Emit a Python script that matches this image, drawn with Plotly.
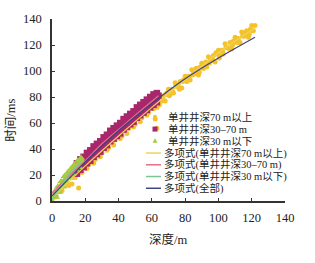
import plotly.graph_objects as go

# ---------------- data ----------------
yellow_depth = [60, 61, 62, 63, 64, 65, 66, 67, 68, 69, 70, 71, 72, 73, 74, 75, 76, 77, 78, 79,
                80, 81, 82, 83, 84, 85, 86, 87, 88, 89, 90, 91, 92, 93, 94, 95, 96, 97, 98, 99,
                100, 101, 102, 103, 104, 105, 106, 107, 108, 109, 110, 111, 112, 113, 114, 115, 116, 117, 118, 119,
                120, 121, 122,
                60.5, 62.5, 64.5, 66.5, 68.5, 70.5, 72.5, 74.5, 76.5, 78.5, 80.5, 82.5, 84.5, 86.5, 88.5, 90.5,
                92.5, 94.5, 96.5, 98.5, 100.5, 102.5, 104.5, 106.5, 108.5, 110.5, 112.5, 114.5, 116.5, 118.5, 120.5,
                0, 2, 4, 6, 8, 10, 12, 14, 16, 18, 20, 22, 24, 26, 28, 30, 32, 34, 36, 38, 40, 42, 44, 46, 48,
                50, 52, 54, 56, 58,
                21, 25, 29, 33, 37, 41, 45, 49, 53, 57,
                62, 63, 12, 16]
yellow_time = [75, 71, 75, 72, 80, 77, 77, 81, 77, 83, 86, 82, 86, 83, 91, 88, 88, 92, 87, 93,
               96, 92, 96, 93, 101, 98, 98, 102, 97, 103, 106, 102, 106, 103, 111, 108, 108, 112, 107, 113,
               116, 112, 116, 113, 121, 118, 118, 122, 117, 123, 126, 122, 125, 122, 130, 127, 127, 131, 126, 132,
               135, 131, 135,
               72, 77, 74, 79, 82, 81, 84, 89, 86, 92, 95, 94, 97, 102, 99, 104,
               107, 106, 109, 114, 110, 115, 118, 117, 120, 125, 122, 127, 130, 128, 131,
               2, 3, 8, 8, 12, 12, 18, 18, 22, 22, 27, 28, 31, 32, 37, 37, 41, 41, 46, 47, 50, 50, 55, 56, 59,
               59, 64, 64, 68, 68,
               25, 29, 34, 39, 43, 48, 52, 57, 61, 66,
               63, 56, 13, 10]

purple_depth = [14, 16, 18, 20, 22, 24, 26, 28, 30, 32, 34, 36, 38, 40, 42, 44, 46, 48, 50, 52, 54, 56, 58, 60, 62, 64,
                15, 17, 19, 21, 23, 25, 27, 29, 31, 33, 35, 37, 39, 41, 43, 45, 47, 49, 51, 53, 55, 57, 59, 61, 63,
                15, 17, 19, 21, 23, 25, 27, 29, 31, 33, 35, 37, 39, 41, 43, 45, 47, 49, 51, 53, 55, 57, 59, 61, 63]
purple_time = [24, 27, 29, 31, 34, 36, 39, 41, 44, 46, 48, 51, 53, 55, 58, 60, 62, 64, 66, 69, 71, 73, 75, 77, 79, 81,
               29, 32, 34, 37, 39, 42, 44, 46, 49, 51, 54, 56, 58, 60, 63, 65, 67, 69, 72, 74, 76, 78, 80, 82, 83,
               21, 24, 26, 29, 31, 34, 36, 38, 41, 43, 46, 48, 50, 52, 55, 57, 59, 61, 64, 66, 68, 70, 72, 74, 76]

green_depth = [0, 1, 2, 3, 4, 5, 6, 7, 8, 9, 10, 11, 12, 13, 14, 15, 16, 17, 18,
               1.5, 3.5, 5.5, 7.5, 9.5, 11.5, 13.5, 15.5, 17.5,
               2.5, 4.5, 6.5, 8.5, 10.5, 12.5, 14.5, 16.5]
green_time = [0, 3, 5, 7, 9, 11, 13, 15, 17, 18, 20, 22, 23, 25, 26, 27, 29, 30, 31,
              7, 11, 15, 19, 22, 25, 28, 31, 33,
              3, 7, 11, 15, 18, 21, 24, 26]

fit_yellow_depth = [0, 20, 40, 60, 80, 100, 122]
fit_yellow_time = [2, 27, 50, 72, 93, 114, 133]
fit_pink_depth = [0, 10, 20, 30, 40, 50, 64]
fit_pink_time = [6, 19, 31, 44, 55, 66, 81]
fit_green_depth = [0, 5, 10, 15, 18]
fit_green_time = [1, 11, 20, 27, 31]
fit_all_depth = [0, 10, 20, 40, 60, 80, 100, 122]
fit_all_time = [4, 17, 30, 54, 75, 94, 110, 126]

x_ticks = [0, 20, 40, 60, 80, 100, 120, 140]
y_ticks = [0, 20, 40, 60, 80, 100, 120, 140]

legend_labels = ["单井井深70 m以上", "单井井深30–70 m", "单井井深30 m以下",
                 "多项式(单井井深70 m以上)", "多项式(单井井深30–70 m)",
                 "多项式(单井井深30 m以下)", "多项式(全部)"]

# ---------------- style ----------------
C_YEL = "#F4C22B"
C_PUR = "#A8276C"
C_GRN = "#A6CB3C"
L_YEL = "#F0D35A"
L_PNK = "#E86C88"
L_GRN = "#7EC596"
L_BLU = "#3A4585"
FONT = "Liberation Serif, Noto Sans CJK SC, serif"

W, H = 315, 263
ML, MR, MT, MB = 52, 30, 15, 62

fig = go.Figure()
fig.add_trace(go.Scatter(x=yellow_depth, y=yellow_time, mode="markers",
                         marker=dict(color=C_YEL, size=5, symbol="circle"), showlegend=False))
fig.add_trace(go.Scatter(x=purple_depth, y=purple_time, mode="markers",
                         marker=dict(color=C_PUR, size=6.5, symbol="square"), showlegend=False))
fig.add_trace(go.Scatter(x=green_depth, y=green_time, mode="markers",
                         marker=dict(color=C_GRN, size=7, symbol="triangle-up"), showlegend=False))
for xs, ys, col in [(fit_yellow_depth, fit_yellow_time, L_YEL),
                    (fit_pink_depth, fit_pink_time, L_PNK),
                    (fit_green_depth, fit_green_time, L_GRN),
                    (fit_all_depth, fit_all_time, L_BLU)]:
    fig.add_trace(go.Scatter(x=xs, y=ys, mode="lines", line=dict(color=col, width=1.2, shape="spline"),
                             showlegend=False))


def px(xp):
    return (xp - ML) / (W - ML - MR)


def py(yp):
    return (H - MB - yp) / (H - MT - MB)


# manual legend
rows = [115, 127.5, 139.5, 152, 164, 176, 188]
shapes = []
annotations = []
mx = px(155)
shapes.append(dict(type="circle", xref="paper", yref="paper", xsizemode="pixel", ysizemode="pixel",
                   xanchor=mx, yanchor=py(rows[0]), x0=-2, x1=2, y0=-2, y1=2,
                   fillcolor=C_YEL, line=dict(width=0)))
shapes.append(dict(type="rect", xref="paper", yref="paper", xsizemode="pixel", ysizemode="pixel",
                   xanchor=mx, yanchor=py(rows[1]), x0=-2.5, x1=2.5, y0=-2.5, y1=2.5,
                   fillcolor=C_PUR, line=dict(width=0)))
shapes.append(dict(type="path", xref="paper", yref="paper", xsizemode="pixel", ysizemode="pixel",
                   xanchor=mx, yanchor=py(rows[2]), path="M -2.5 -2 L 2.5 -2 L 0 2.5 Z",
                   fillcolor=C_GRN, line=dict(width=0)))
for r, col in zip(rows[3:], [L_YEL, L_PNK, L_GRN, L_BLU]):
    shapes.append(dict(type="line", xref="paper", yref="paper", x0=px(146), x1=px(161),
                       y0=py(r), y1=py(r), line=dict(color=col, width=1.5)))
for i, (r, lab) in enumerate(zip(rows, legend_labels)):
    annotations.append(dict(text=lab, xref="paper", yref="paper", x=px(166 if i < 3 else 162), y=py(r),
                            xanchor="left", yanchor="middle", showarrow=False,
                            font=dict(family=FONT, size=10.5, color="#222")))

annotations.append(dict(text="时间/ms", xref="paper", yref="paper", x=px(11), y=py(119),
                        xanchor="center", yanchor="middle", textangle=-90, showarrow=False,
                        font=dict(family=FONT, size=12.5, color="#222")))
annotations.append(dict(text="深度/m", xref="paper", yref="paper", x=px(168), y=py(240),
                        xanchor="center", yanchor="middle", showarrow=False,
                        font=dict(family=FONT, size=12.5, color="#222")))

axis_common = dict(showgrid=False, zeroline=False, showline=True, linecolor="#333", linewidth=1.5,
                   ticks="inside", ticklen=3, tickwidth=1.2, tickcolor="#333",
                   tickfont=dict(family=FONT, size=12.5, color="#222"), range=[0, 140], fixedrange=True)

fig.update_layout(
    width=W, height=H, margin=dict(l=ML, r=MR, t=MT, b=MB),
    paper_bgcolor="white", plot_bgcolor="white",
    font=dict(family=FONT),
    xaxis=dict(tickvals=x_ticks, ticklabelstandoff=4, **axis_common),
    yaxis=dict(tickvals=y_ticks, ticklabelstandoff=6, **axis_common),
    shapes=shapes, annotations=annotations, showlegend=False,
)
fig.write_html("out.html")
